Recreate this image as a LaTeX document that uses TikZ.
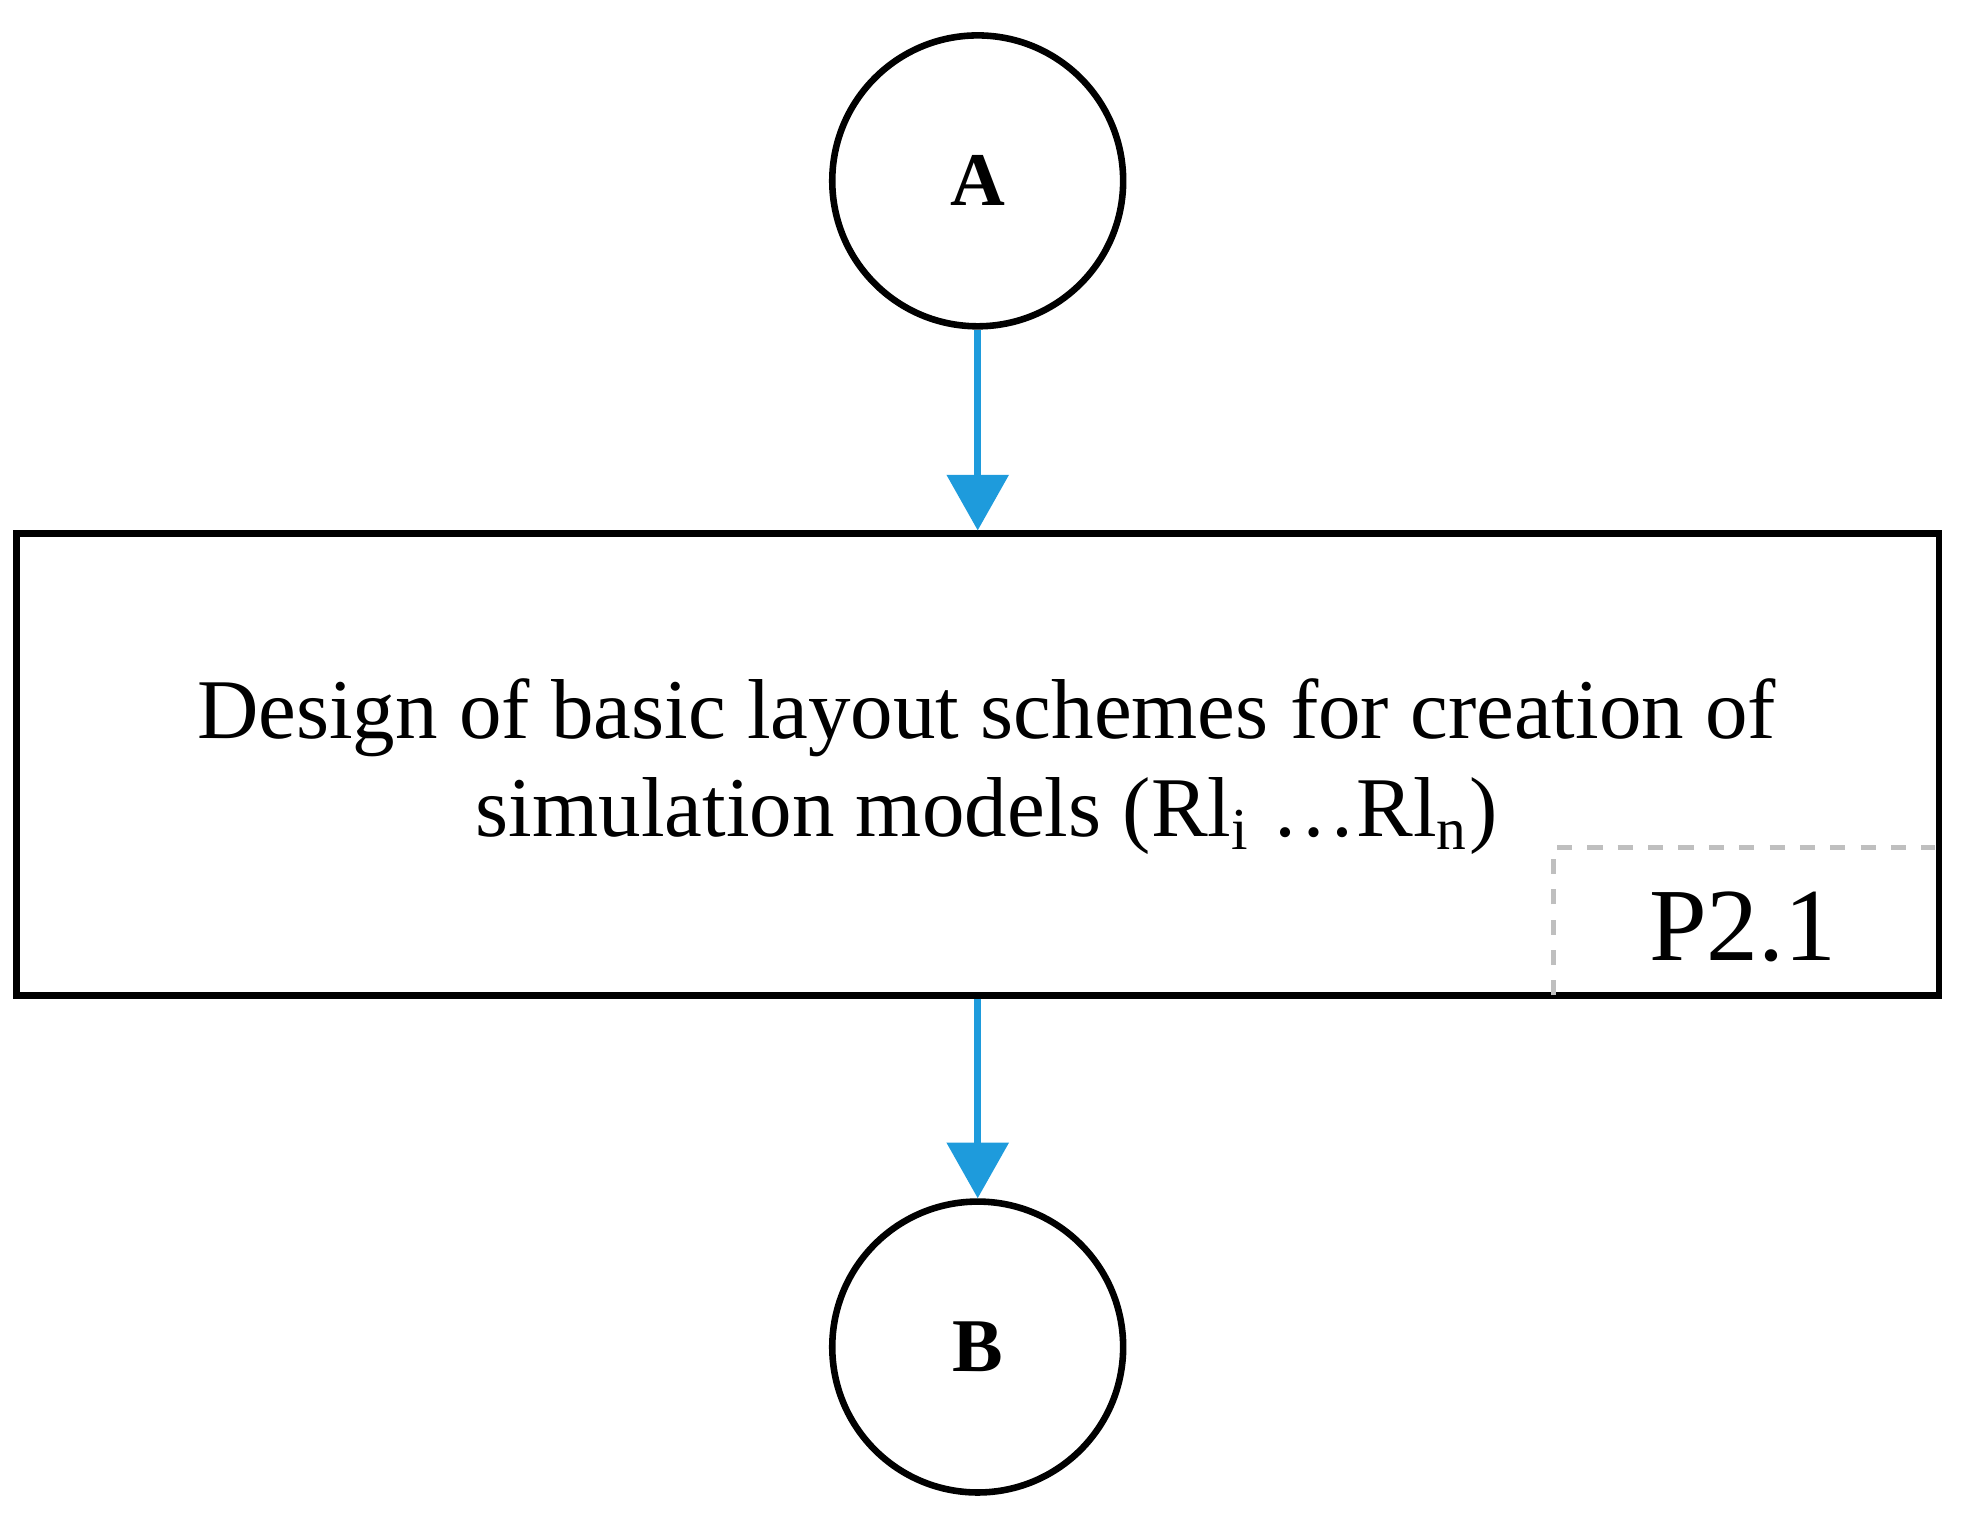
\documentclass[tikz,border=0pt]{standalone}
\usepackage{fontspec}
\setmainfont{Liberation Serif}
\usetikzlibrary{arrows.meta}
\definecolor{arrowblue}{RGB}{30,155,220}
\begin{document}
\begin{tikzpicture}[x=0.25pt,y=-0.25pt,
  circ/.style={draw,line width=1.3pt,circle,minimum size=57.5pt,inner sep=0pt,font=\fontsize{15}{18}\selectfont\bfseries},
  flow/.style={draw=arrowblue,line width=1.4pt,-{Triangle[length=11pt,width=12pt]}}]
\useasboundingbox (0,0) rectangle (1552,1196);
\node[circ] (A) at (773,143) {A};
\node[circ] (B) at (773,1065) {B};
\node[draw,line width=1.3pt,minimum width=380pt,minimum height=91.25pt,inner sep=0pt] (P) at (773,604.5) {};
\node[align=center,font=\fontsize{16.8}{19.5}\selectfont] (T) at (780,606) {Design of basic layout schemes for creation of\\simulation models (Rl\textsubscript{i} \ldots Rl\textsubscript{n})};
\coordinate (d1) at (1228,787);
\coordinate (d2) at (1228,670);
\coordinate (d3) at (1530,670);
\draw[gray!50,line width=1pt,dashed] (d1) -- (d2) -- (d3);
\node[font=\fontsize{20.5}{24}\selectfont] (L) at (1378,733) {P2.1};
\draw[flow] (A.south) -- (P.north);
\draw[flow] (P.south) -- (B.north);
\end{tikzpicture}
\end{document}
